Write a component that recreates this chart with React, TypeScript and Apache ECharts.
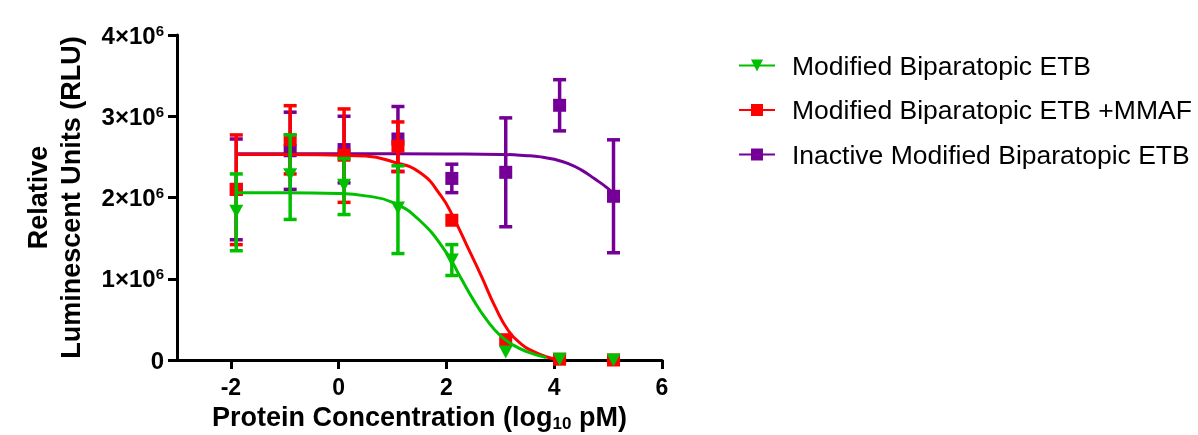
import React, { useEffect, useRef } from 'react';
import * as echarts from 'echarts';

// log10 pM concentrations of the measured points
const xValues = [-1.9, -0.9, 0.1, 1.1, 2.1, 3.1, 4.1, 5.1];

// Modified Biparatopic ETB (green)
const greenMean = [1830000, 2280000, 2150000, 1870000, 1230000, 100000, 10000, 0];
const greenHi = [2290000, 2770000, 2480000, 2390000, 1420000, null, null, null];
const greenLo = [1345000, 1730000, 1790000, 1310000, 1040000, null, null, null];

// Modified Biparatopic ETB +MMAF (red)
const redMean = [2100000, 2710000, 2520000, 2630000, 1720000, 250000, 10000, 0];
const redHi = [2770000, 3130000, 3090000, 2930000, null, null, null, null];
const redLo = [1420000, 2290000, 1940000, 2320000, null, null, null, null];

// Inactive Modified Biparatopic ETB (purple)
const purpleMean = [2100000, 2575000, 2590000, 2720000, 2235000, 2310000, 3135000, 2015000];
const purpleHi = [2720000, 3050000, 3000000, 3120000, 2410000, 2980000, 3450000, 2710000];
const purpleLo = [1480000, 2100000, 2180000, 2320000, 2060000, 1640000, 2820000, 1320000];

// fitted curves
const greenCurveX = [-1.9, -1, 0, 0.5, 1, 1.5, 2, 2.25, 2.5, 2.75, 3, 3.25, 3.5, 3.85];
const greenCurveY = [2060000, 2060000, 2050000, 2020000, 1940000, 1720000, 1320000, 1030000, 740000, 490000, 300000, 180000, 100000, 30000];
const redCurveX = [-1.9, -1, 0, 0.5, 1, 1.5, 1.9, 2.14, 2.4, 2.65, 2.9, 3.15, 3.4, 3.6, 3.85, 4.05];
const redCurveY = [2530000, 2530000, 2520000, 2510000, 2440000, 2310000, 2020000, 1740000, 1380000, 1030000, 660000, 360000, 190000, 110000, 40000, 10000];
const purpleCurveX = [-1.9, 0, 2, 3, 3.5, 3.75, 4, 4.25, 4.5, 4.75, 5, 5.14];
const purpleCurveY = [2540000, 2540000, 2535000, 2530000, 2515000, 2500000, 2470000, 2420000, 2340000, 2230000, 2110000, 2020000];

const names = ['Modified Biparatopic ETB', 'Modified Biparatopic ETB +MMAF', 'Inactive Modified Biparatopic ETB'];
const colors = ['#00C000', '#FF0000', '#740098'];

const xTicks = [-2, 0, 2, 4, 6];
const FONT = 'Liberation Sans, Arial, sans-serif';

function zip(xs: number[], ys: (number | null)[]) {
  return xs.map((x, i) => [x, ys[i]]);
}

function errData(lo: (number | null)[], hi: (number | null)[]) {
  const out: number[][] = [];
  xValues.forEach((x, i) => {
    if (lo[i] != null && hi[i] != null) out.push([x, lo[i] as number, hi[i] as number]);
  });
  return out;
}

function errSeries(name: string, color: string, data: number[][], z: number) {
  return {
    type: 'custom',
    name,
    z,
    data,
    encode: { x: 0, y: [1, 2] },
    renderItem: (params: any, api: any) => {
      const x = api.value(0);
      const lo = api.coord([x, api.value(1)]);
      const hi = api.coord([x, api.value(2)]);
      const w = 6.5;
      const style = { stroke: color, lineWidth: 3.5 };
      return {
        type: 'group',
        children: [
          { type: 'line', shape: { x1: lo[0], y1: lo[1], x2: hi[0], y2: hi[1] }, style },
          { type: 'line', shape: { x1: hi[0] - w, y1: hi[1], x2: hi[0] + w, y2: hi[1] }, style },
          { type: 'line', shape: { x1: lo[0] - w, y1: lo[1], x2: lo[0] + w, y2: lo[1] }, style },
        ],
      };
    },
  };
}

export default function App() {
  const ref = useRef<HTMLDivElement>(null);
  useEffect(() => {
    if (!ref.current) return;
    const chart = echarts.init(ref.current, undefined, { renderer: 'svg' });
    const symbols = ['triangle', 'rect', 'rect'];
    const rot = [180, 0, 0];
    const curves = [zip(greenCurveX, greenCurveY), zip(redCurveX, redCurveY), zip(purpleCurveX, purpleCurveY)];
    const points = [zip(xValues, greenMean), zip(xValues, redMean), zip(xValues, purpleMean)];
    const errs = [errData(greenLo, greenHi), errData(redLo, redHi), errData(purpleLo, purpleHi)];
    const zBase = [6, 4, 2];

    const series: any[] = [];
    names.forEach((n, i) => {
      series.push({
        type: 'line',
        name: n,
        data: curves[i],
        smooth: 0.5,
        showSymbol: false,
        symbol: symbols[i],
        symbolRotate: rot[i],
        symbolSize: 13,
        z: zBase[i],
        lineStyle: { color: colors[i], width: 3 },
        itemStyle: { color: colors[i] },
      });
    });
    names.forEach((n, i) => {
      series.push(errSeries(n, colors[i], errs[i], zBase[i] + 0.5));
      series.push({
        type: 'scatter',
        name: n,
        data: points[i],
        symbol: symbols[i],
        symbolRotate: rot[i],
        symbolSize: i === 0 ? [14, 13] : 13,
        z: zBase[i] + 1,
        itemStyle: { color: colors[i], opacity: 1 },
      });
    });

    chart.setOption({
      animation: false,
      textStyle: { fontFamily: FONT },
      grid: { left: 177, right: 536, top: 35, bottom: 75, outerBoundsMode: 'none', containLabel: false },
      legend: {
        data: names,
        orient: 'vertical',
        left: 733,
        top: 47,
        itemWidth: 36,
        itemHeight: 15,
        itemGap: 17.5,
        textStyle: { fontSize: 26.5, color: '#000', fontFamily: FONT, padding: [0, 0, 0, 12] },
        selectedMode: false,
      },
      xAxis: {
        type: 'value',
        min: -3,
        max: 6,
        name: '{a|Protein Concentration (log}{s|10}{a| pM)}',
        nameLocation: 'middle',
        nameGap: 42,
        nameTextStyle: {
          rich: {
            a: { fontSize: 27, fontWeight: 'bold', color: '#000', fontFamily: FONT, lineHeight: 30 },
            s: { fontSize: 17, fontWeight: 'bold', color: '#000', fontFamily: FONT, verticalAlign: 'bottom', lineHeight: 17, padding: [8, 0, 0, 0] },
          },
        },
        splitLine: { show: false },
        axisLine: { onZero: false, lineStyle: { color: '#000', width: 3 } },
        axisTick: { customValues: xTicks, length: 9, lineStyle: { color: '#000', width: 3 } },
        axisLabel: {
          customValues: xTicks,
          margin: 15,
          fontSize: 23,
          fontWeight: 'bold',
          color: '#000',
          fontFamily: FONT,
        },
      },
      yAxis: {
        type: 'value',
        min: 0,
        max: 4000000,
        interval: 1000000,
        name: 'Relative\nLuminescent Units (RLU)',
        nameLocation: 'middle',
        nameGap: 90,
        nameTextStyle: { fontSize: 27, fontWeight: 'bold', color: '#000', fontFamily: FONT, lineHeight: 33 },
        splitLine: { show: false },
        axisLine: { show: true, onZero: false, lineStyle: { color: '#000', width: 3 } },
        axisTick: { show: true, length: 9, lineStyle: { color: '#000', width: 3 } },
        axisLabel: {
          margin: 13,
          color: '#000',
          formatter: (v: number) => (v === 0 ? '{b|0}' : `{b|${v / 1000000}×10}{p|6}`),
          rich: {
            b: { fontSize: 24, fontWeight: 'bold', color: '#000', fontFamily: FONT, lineHeight: 25 },
            p: { fontSize: 15, fontWeight: 'bold', color: '#000', fontFamily: FONT, verticalAlign: 'top', lineHeight: 15 },
          },
        },
      },
      series,
    });
    return () => chart.dispose();
  }, []);
  return <div ref={ref} style={{ position: 'fixed', left: 0, top: 0, width: 1198, height: 435 }} />;
}
